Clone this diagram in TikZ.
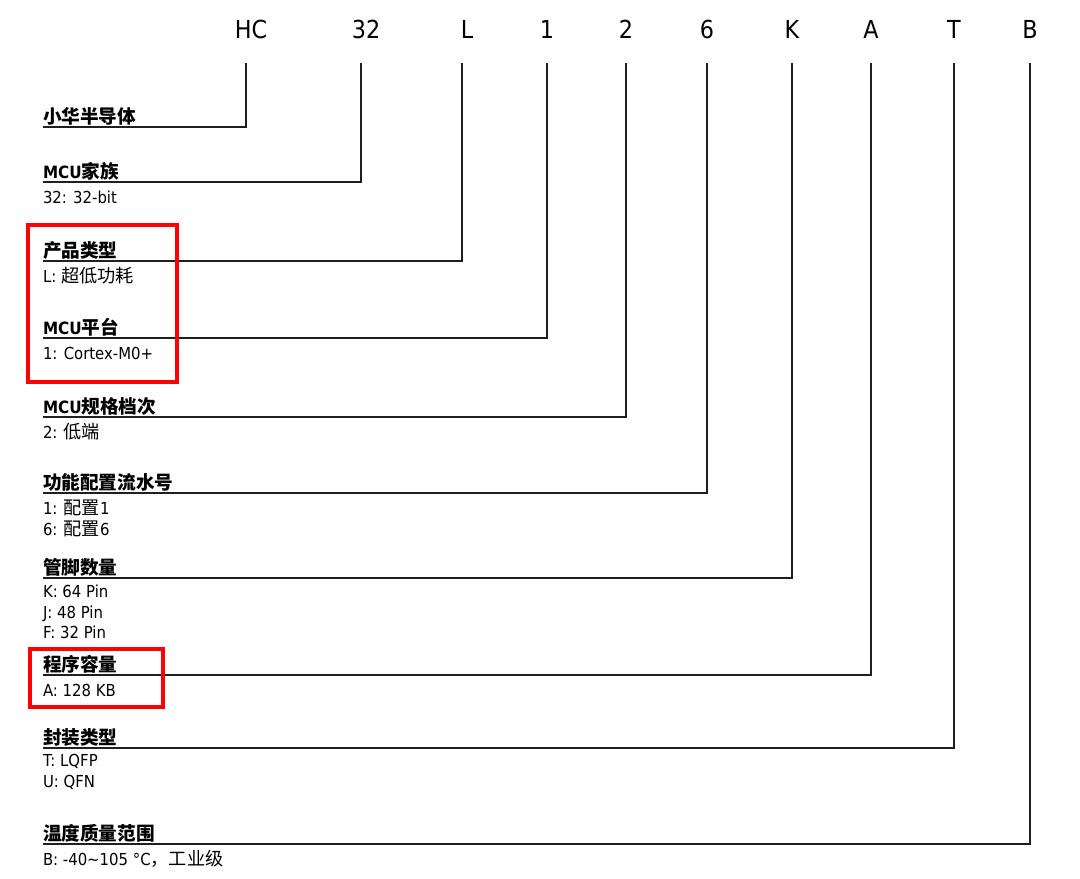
\documentclass[tikz,border=0pt]{standalone}
\usepackage{fontspec}
\setmainfont{DejaVu Sans}[FakeStretch=0.9]
\newfontfamily\cjk{Noto Sans CJK SC}[Scale=1.1]
\newcommand{\zh}[1]{{\cjk #1}}
\usepackage{tikz}
\usetikzlibrary{positioning}

\begin{document}
\begin{tikzpicture}[x=0.75pt, y=-0.75pt,
  code/.style={anchor=base, inner sep=0pt, outer sep=0pt, outer ysep=18.75pt, text depth=0pt, font=\fontsize{18.6}{20}\selectfont},
  title/.style={anchor=south west, inner xsep=0pt, inner ysep=3pt, outer sep=0pt, text depth=0pt, font=\bfseries\fontsize{12.7}{14}\selectfont},
  sub/.style={align=left, inner sep=0pt, outer sep=0pt, font=\fontsize{12.4}{15.6}\selectfont, execute at begin node=\strut},
  lead/.style={line width=1.2pt, draw=black!88},
  mark box/.style={line width=2.3pt, draw=red}
]
  \useasboundingbox (0,0) rectangle (1080,878);

  \node[code] (hc) at (251,38) {HC};
  \node[code] (fam) at (366,38) {32};
  \node[code] (typ) at (467,38) {L};
  \node[code] (core) at (547,38) {1};
  \node[code] (grade) at (626,38) {2};
  \node[code] (cfg) at (707,38) {6};
  \node[code] (pins) at (792,38) {K};
  \node[code] (flash) at (871,38) {A};
  \node[code] (pkg) at (954,38) {T};
  \node[code] (temp) at (1030,38) {B};

  \node[title] (t1) at (43,127) {\zh{小华半导体}};
  \node[title] (t2) at (43,182) {MCU\zh{家族}};
  \node[title] (t3) at (43,261) {\zh{产品类型}};
  \node[title] (t4) at (43,338) {MCU\zh{平台}};
  \node[title] (t5) at (43,417) {MCU\zh{规格档次}};
  \node[title] (t6) at (43,493) {\zh{功能配置流水号}};
  \node[title] (t7) at (43,578) {\zh{管脚数量}};
  \node[title] (t8) at (43,675) {\zh{程序容量}};
  \node[title] (t9) at (43,748) {\zh{封装类型}};
  \node[title] (t10) at (43,844) {\zh{温度质量范围}};

  \node[sub, below right=5pt and 0pt of t2.south west] (s2) {32: 32-bit};
  \node[sub, below right=5pt and 0pt of t3.south west] (s3) {L: \zh{超低功耗}};
  \node[sub, below right=5pt and 0pt of t4.south west] (s4) {1: Cortex-M0+};
  \node[sub, below right=5pt and 0pt of t5.south west] (s5) {2: \zh{低端}};
  \node[sub, below right=5pt and 0pt of t6.south west] (s6) {1: \zh{配置}1\\6: \zh{配置}6};
  \node[sub, below right=5pt and 0pt of t7.south west] (s7) {K: 64 Pin\\J: 48 Pin\\F: 32 Pin};
  \node[sub, below right=5pt and 0pt of t8.south west] (s8) {A: 128 KB};
  \node[sub, below right=5pt and 0pt of t9.south west] (s9) {T: LQFP\\U: QFN};
  \node[sub, below right=5pt and 0pt of t10.south west] (s10) {B: -40\textasciitilde105 °C\zh{，工业级}};

  \draw[lead] ([xshift=-3.75pt]hc.south) |- (t1.south west);
  \draw[lead] ([xshift=-3.75pt]fam.south) |- (t2.south west);
  \draw[lead] ([xshift=-3.75pt]typ.south) |- (t3.south west);
  \draw[lead] (core.south) |- (t4.south west);
  \draw[lead] (grade.south) |- (t5.south west);
  \draw[lead] (cfg.south) |- (t6.south west);
  \draw[lead] (pins.south) |- (t7.south west);
  \draw[lead] (flash.south) |- (t8.south west);
  \draw[lead] (pkg.south) |- (t9.south west);
  \draw[lead] (temp.south) |- (t10.south west);

  \draw[mark box] (28,225) rectangle (177,382);
  \draw[mark box] (30,649) rectangle (163,707);
\end{tikzpicture}
\end{document}
